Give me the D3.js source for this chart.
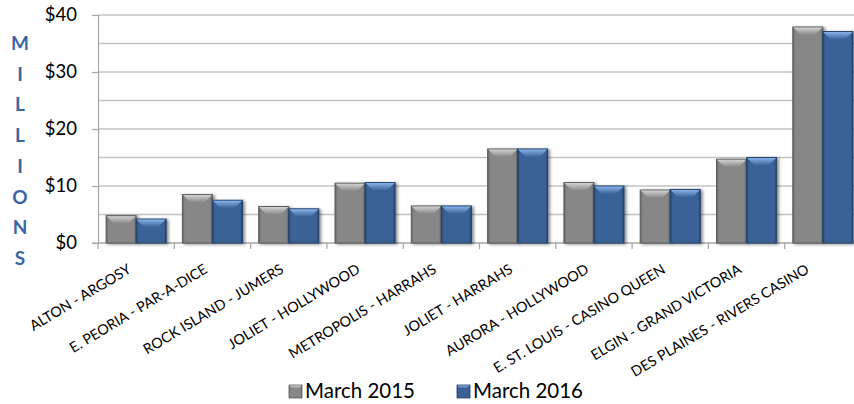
<!DOCTYPE html>
<html>
<head>
<meta charset="utf-8">
<script src="https://cdn.jsdelivr.net/npm/d3@7"></script>
<style>
  html, body { margin: 0; padding: 0; background: #fff; overflow: hidden; }
  svg { display: block; font-family: Lato, "Open Sans", sans-serif; }
</style>
</head>
<body>
<svg id="chart" width="854" height="404"></svg>
<script>
const categories = [
  'ALTON - ARGOSY', 'E. PEORIA - PAR-A-DICE', 'ROCK ISLAND - JUMERS',
  'JOLIET - HOLLYWOOD', 'METROPOLIS - HARRAHS', 'JOLIET - HARRAHS',
  'AURORA - HOLLYWOOD', 'E. ST. LOUIS - CASINO QUEEN', 'ELGIN - GRAND VICTORIA',
  'DES PLAINES - RIVERS CASINO'
];
const march2015 = [4.8, 8.5, 6.4, 10.5, 6.5, 16.5, 10.6, 9.3, 14.7, 37.9];
const march2016 = [4.2, 7.5, 6.0, 10.6, 6.5, 16.5, 10.0, 9.4, 15.0, 37.1];
const seriesNames = ['March 2015', 'March 2016'];
const yTicks = [0, 10, 20, 30, 40];
const axisTitle = 'MILLIONS';

const svg = d3.select('#chart');
const width = 854;

const palette = {
  'March 2015': { main: '#878787', light: '#d2d2d2', dark: '#5e5e5e' },
  'March 2016': { main: '#3a6296', light: '#86b2ea', dark: '#26436b' }
};

const x = d3.scaleBand().domain(categories).range([98, 861]);
const xs = d3.scaleBand().domain(seriesNames).range([0, x.bandwidth()]).paddingOuter(0.27);
const y = d3.scaleLinear().domain([0, 40]).range([243, 15]);

const defs = svg.append('defs');
defs.append('filter').attr('id', 'shadow')
  .attr('x', '-20%').attr('y', '-10%').attr('width', '150%').attr('height', '130%')
  .append('feDropShadow')
  .attr('dx', 2).attr('dy', 1).attr('stdDeviation', 1.6)
  .attr('flood-color', '#000').attr('flood-opacity', 0.45);

seriesNames.forEach((s, i) => {
  const c = palette[s];
  const g = defs.append('linearGradient').attr('id', 'bevel' + i)
    .attr('x1', 0).attr('y1', 0).attr('x2', 0).attr('y2', 1);
  g.append('stop').attr('offset', '0%').attr('stop-color', c.light);
  g.append('stop').attr('offset', '100%').attr('stop-color', c.main);
  const h = defs.append('linearGradient').attr('id', 'body' + i)
    .attr('x1', 0).attr('y1', 0).attr('x2', 1).attr('y2', 0);
  h.append('stop').attr('offset', '0%').attr('stop-color', c.dark);
  h.append('stop').attr('offset', '8%').attr('stop-color', c.main);
  h.append('stop').attr('offset', '92%').attr('stop-color', c.main);
  h.append('stop').attr('offset', '100%').attr('stop-color', c.dark);
});

// gridlines every $5
svg.append('g').selectAll('line')
  .data(y.ticks(8))
  .enter().append('line')
  .attr('x1', 98).attr('x2', width)
  .attr('y1', d => y(d)).attr('y2', d => y(d))
  .attr('stroke', '#c3c3c3').attr('stroke-width', 1.5);

// y axis
const yAxis = svg.append('g').attr('transform', 'translate(98,0)')
  .call(d3.axisLeft(y).tickValues(yTicks).tickSize(6).tickPadding(15).tickFormat(d => '$' + d));
yAxis.select('.domain').attr('stroke', '#a6a6a6').attr('stroke-width', 1.2);
yAxis.selectAll('.tick line').attr('stroke', '#a6a6a6').attr('stroke-width', 1.2);
yAxis.selectAll('.tick text')
  .attr('fill', '#000').style('font-size', '18.5px').style('font-family', 'Lato, sans-serif');

// x axis line and category ticks
svg.append('line')
  .attr('x1', 92).attr('x2', width).attr('y1', y(0)).attr('y2', y(0))
  .attr('stroke', '#a6a6a6').attr('stroke-width', 1.2);
svg.append('g').selectAll('line')
  .data(categories)
  .enter().append('line')
  .attr('x1', d => x(d)).attr('x2', d => x(d))
  .attr('y1', y(0)).attr('y2', y(0) + 6)
  .attr('stroke', '#a6a6a6').attr('stroke-width', 1.2);

// bars
const rows = categories.map((c, i) => ({ cat: c, values: [march2015[i], march2016[i]] }));
const bevel = 8;
const groups = svg.append('g').selectAll('g')
  .data(rows)
  .enter().append('g')
  .attr('transform', d => `translate(${x(d.cat)},0)`);

const bars = groups.selectAll('g.bar')
  .data(d => d.values.map((v, i) => ({ s: seriesNames[i], i, v })))
  .enter().append('g').attr('class', 'bar')
  .attr('filter', 'url(#shadow)');

bars.append('rect')
  .attr('x', d => xs(d.s)).attr('y', d => y(d.v))
  .attr('width', xs.bandwidth()).attr('height', d => y(0) - y(d.v))
  .attr('fill', d => `url(#body${d.i})`)
  .attr('stroke', d => palette[d.s].dark).attr('stroke-width', 1);

bars.append('path')
  .attr('d', d => {
    const x0 = xs(d.s), x1 = x0 + xs.bandwidth(), t = y(d.v);
    return `M${x0 + 0.5},${t + 0.5}L${x1 - 0.5},${t + 0.5}L${x1 - bevel},${t + bevel}L${x0 + bevel},${t + bevel}Z`;
  })
  .attr('fill', d => `url(#bevel${d.i})`);

// category labels
svg.append('g').selectAll('text')
  .data(categories)
  .enter().append('text')
  .attr('transform', d => {
    const cx = Math.min(x(d) + x.bandwidth() / 2 - 4, width - 44);
    return `translate(${cx},272) rotate(-31)`;
  })
  .attr('text-anchor', 'end')
  .style('font-size', '14.3px')
  .attr('fill', '#000')
  .text(d => d);

// vertical axis title
svg.append('g').selectAll('text')
  .data(axisTitle.split(''))
  .enter().append('text')
  .attr('x', 20)
  .attr('y', (d, i) => 50 + i * 30.7)
  .attr('text-anchor', 'middle')
  .style('font-size', '19px').style('font-weight', 'bold')
  .attr('fill', '#3b66a3')
  .text(d => d);

// legend
const legend = svg.append('g').selectAll('g')
  .data(seriesNames)
  .enter().append('g')
  .attr('transform', (d, i) => `translate(${289 + i * 168},385)`);
legend.append('rect')
  .attr('width', 13).attr('height', 13)
  .attr('fill', (d, i) => `url(#body${i})`)
  .attr('stroke', d => palette[d].dark).attr('stroke-width', 0.8);
legend.append('path')
  .attr('d', 'M0.5,0.5L12.5,0.5L9.5,3.5L3.5,3.5Z')
  .attr('fill', (d, i) => `url(#bevel${i})`);
legend.append('text')
  .attr('x', 16).attr('y', 13)
  .style('font-size', '20.5px')
  .attr('fill', '#000')
  .text(d => d);
</script>
</body>
</html>
